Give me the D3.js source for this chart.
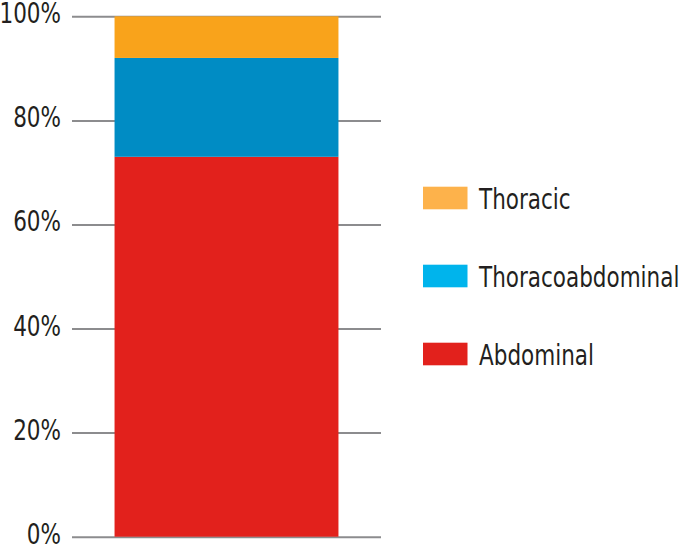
<!DOCTYPE html>
<html>
<head>
<meta charset="utf-8">
<script src="https://cdn.jsdelivr.net/npm/d3@7"></script>
<style>
  html, body { margin: 0; padding: 0; background: #fff; }
  svg text { font-family: "DejaVu Sans Condensed", "Liberation Sans Narrow", sans-serif; fill: #231f20; }
</style>
</head>
<body>
<svg id="chart" width="690" height="545"></svg>
<script>
const categories = ["All"];
const seriesNames = ["Abdominal", "Thoracoabdominal", "Thoracic"];
const abdominal = [73];
const thoracoabdominal = [19];
const thoracic = [8];
const tickValues = [0, 20, 40, 60, 80, 100];
const tickLabels = ["0%", "20%", "40%", "60%", "80%", "100%"];
const barColors = { Abdominal: "#e2211c", Thoracoabdominal: "#008cc4", Thoracic: "#f9a31b" };
const legendColors = { Abdominal: "#e2211c", Thoracoabdominal: "#00b4ec", Thoracic: "#fdb24b" };
const legendOrder = ["Thoracic", "Thoracoabdominal", "Abdominal"];

const svg = d3.select("#chart");
const plotLeft = 72, plotRight = 381, plotTop = 16.3, plotBottom = 536.7;
const squeeze = 0.84;

const y = d3.scaleLinear().domain([0, 100]).range([plotBottom, plotTop]);
const x = d3.scaleBand().domain(categories).range([plotLeft, plotRight]).paddingInner(0).paddingOuter(0.19);

// grid + labels
const axis = d3.axisLeft(y)
  .tickValues(tickValues)
  .tickFormat((d, i) => tickLabels[i])
  .tickSize(-(plotRight - plotLeft))
  .tickPadding(11);
const g = svg.append("g").attr("transform", `translate(${plotLeft},0)`).call(axis);
g.select(".domain").remove();
g.selectAll(".tick line").attr("stroke", "#8c8c8e").attr("stroke-width", 2);
g.attr("font-family", null).attr("font-size", null);
g.selectAll(".tick text")
  .attr("font-size", 28.5)
  .attr("dy", null)
  .attr("x", 0)
  .attr("y", 0)
  .attr("transform", `translate(-11,6.5) scale(${squeeze},1)`)
  .attr("fill", "#231f20");

// stacked data
const rows = categories.map((c, i) => ({
  cat: c,
  Abdominal: abdominal[i],
  Thoracoabdominal: thoracoabdominal[i],
  Thoracic: thoracic[i]
}));
const stack = d3.stack().keys(seriesNames)(rows);

svg.append("g").selectAll("g").data(stack).join("g")
  .attr("fill", d => barColors[d.key])
  .selectAll("rect").data(d => d).join("rect")
  .attr("x", d => x(d.data.cat))
  .attr("width", x.bandwidth())
  .attr("y", d => y(d[1]))
  .attr("height", d => y(d[0]) - y(d[1]));

// legend
const leg = svg.append("g").attr("transform", "translate(423,186.7)");
const item = leg.selectAll("g").data(legendOrder).join("g")
  .attr("transform", (d, i) => `translate(0,${i * 78})`);
item.append("rect")
  .attr("width", 44.5).attr("height", 22.6)
  .attr("fill", d => legendColors[d]);
item.append("text")
  .attr("transform", `translate(56,22.5) scale(${squeeze},1)`)
  .attr("font-size", 28.5)
  .text(d => d);
</script>
</body>
</html>
